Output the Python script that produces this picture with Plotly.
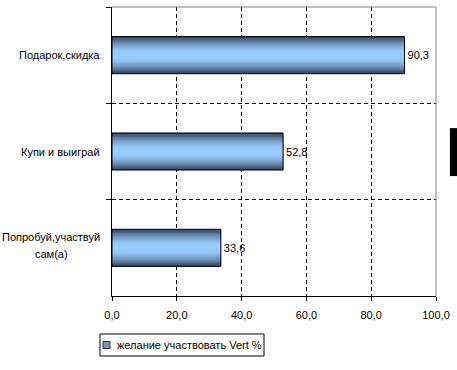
import plotly.graph_objects as go

categories = ["Подарок,скидка", "Купи и выиграй", "Попробуй,участвуй<br>сам(а)"]
values = [90.3, 52.8, 33.6]
series_name = "желание участвовать Vert %"
x_ticks = [0, 20, 40, 60, 80, 100]

FONT = "Arial, Liberation Sans, sans-serif"
DARK = (52, 70, 98)
LIGHT = (153, 204, 255)
BAR_W = 0.385
N = 14


def mix(t):
    c = [round(LIGHT[i] + (DARK[i] - LIGHT[i]) * t) for i in range(3)]
    return "rgb(%d,%d,%d)" % tuple(c)


def px(xp):
    return (xp - 112) / 324


def py(yp):
    return (296 - yp) / 289


fig = go.Figure()
# layered bars simulate a vertical gradient (dark edges, light centre)
for k in range(N):
    frac = 1 - k / N
    t = max(0.0, (frac - 0.15) / 0.85) ** 1.6
    fig.add_trace(go.Bar(
        x=values, y=categories, orientation="h", width=BAR_W * frac,
        marker=dict(color=mix(t), line=dict(width=0)),
        showlegend=False, hoverinfo="skip",
    ))
# outline + labels
fig.add_trace(go.Bar(
    x=values, y=categories, orientation="h", width=BAR_W,
    marker=dict(color="rgba(0,0,0,0)", line=dict(color="black", width=1)),
    texttemplate="%{x:.1f}", textposition="outside", cliponaxis=False,
    textfont=dict(family=FONT, size=11, color="black"),
    showlegend=False,
))

# category labels (multi-line labels centred line by line)
for cat in categories:
    lines = cat.split("<br>")
    if len(lines) == 1:
        fig.add_annotation(
            x=0, xref="paper", xshift=-10, xanchor="right",
            y=cat, yref="y", text=cat, showarrow=False,
            font=dict(family=FONT, size=11, color="black"),
        )
    else:
        shifts = [11, -6]
        for line, ys in zip(lines, shifts):
            fig.add_annotation(
                x=px(51), xref="paper", xanchor="center",
                y=cat, yref="y", yshift=ys, text=line, showarrow=False,
                font=dict(family=FONT, size=11, color="black"),
            )

# legend (box, swatch, series name)
fig.add_annotation(
    x=px(115), y=py(345), xref="paper", yref="paper", xanchor="left", yanchor="middle",
    text=series_name, showarrow=False, font=dict(family=FONT, size=11, color="black"),
)

fig.update_layout(
    width=457, height=370,
    margin=dict(l=112, r=21, t=7, b=74),
    paper_bgcolor="white", plot_bgcolor="white",
    barmode="overlay",
    separators=", ",
    showlegend=False,
    font=dict(family=FONT, size=11, color="black"),
    xaxis=dict(
        range=[0, 100], tickvals=x_ticks, tickformat=".1f",
        showgrid=True, gridcolor="black", gridwidth=1, griddash="4px,3px",
        showline=True, linecolor="black", linewidth=1,
        ticks="outside", ticklen=4, tickcolor="black",
        ticklabelstandoff=5,
        zeroline=False, fixedrange=True,
        tickfont=dict(family=FONT, size=11, color="black"),
    ),
    yaxis=dict(
        type="category", categoryorder="array", categoryarray=categories,
        autorange="reversed", tickson="boundaries",
        showticklabels=False,
        showgrid=True, gridcolor="black", gridwidth=1, griddash="4px,3px",
        showline=True, linecolor="black", linewidth=1,
        ticks="outside", ticklen=5, tickcolor="black",
        zeroline=False, fixedrange=True,
    ),
    shapes=[
        dict(type="line", xref="x domain", yref="y domain", x0=0, x1=1, y0=1, y1=1,
             line=dict(color="#808080", width=1), layer="above"),
        dict(type="line", xref="x domain", yref="y domain", x0=1, x1=1, y0=0, y1=1,
             line=dict(color="#808080", width=1), layer="above"),
        dict(type="rect", xref="paper", yref="paper", x0=1.043, x1=1.065, y0=0.415, y1=0.581,
             fillcolor="black", line=dict(width=0)),
        dict(type="rect", xref="paper", yref="paper", x0=px(100), x1=px(264), y0=py(334), y1=py(356),
             fillcolor="white", line=dict(color="black", width=1)),
        dict(type="rect", xref="paper", yref="paper", x0=px(103), x1=px(110), y0=py(341.5), y1=py(348.5),
             fillcolor="rgb(128,146,180)", line=dict(color="rgb(40,50,70)", width=1)),
    ],
)

fig.write_html("out.html")
